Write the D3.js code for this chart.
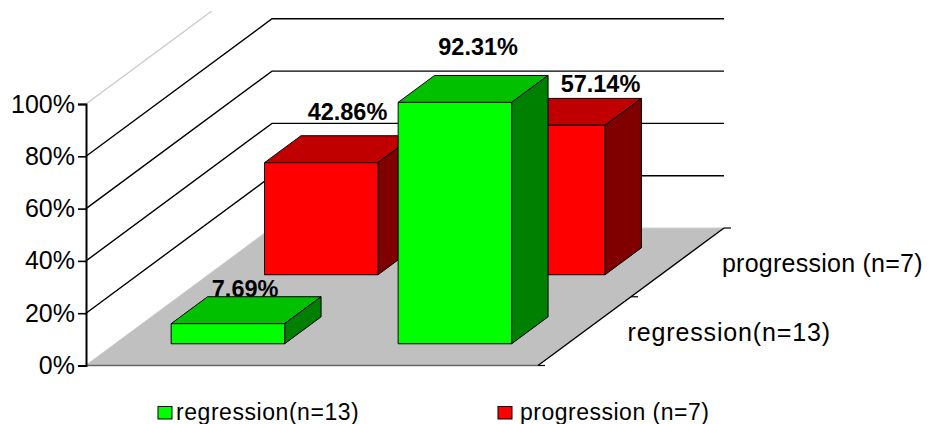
<!DOCTYPE html>
<html>
<head>
<meta charset="utf-8">
<script src="https://cdn.jsdelivr.net/npm/d3@7/dist/d3.min.js"></script>
<style>
html, body { margin: 0; padding: 0; background: #fff; }
svg { display: block; }
text { font-family: "Liberation Sans", Arial, sans-serif; fill: #000; }
</style>
</head>
<body>
<svg id="chart" width="929" height="424"></svg>
<script>
// Outcome groups, front to back, and their share in each of the two unnamed columns
const seriesNames = ["regression(n=13)", "progression (n=7)"];
const columns = ["A", "B"];
const regressionValues = [7.69, 92.31];
const progressionValues = [42.86, 57.14];
const yTicks = [0, 20, 40, 60, 80, 100];
const seriesValues = [regressionValues, progressionValues];

const faceColors = [
  { front: "#00ff00", top: "#00c000", side: "#008000" },
  { front: "#ff0000", top: "#c00000", side: "#800000" }
];

const svg = d3.select("#chart");

// Oblique projection: the depth axis runs up and to the right of the front plane
const originX = 86, floorY = 365.5, depthDX = 186, depthDY = 137.5, floorWidth = 452;
const x = d3.scaleBand().domain(columns).range([0, floorWidth]).paddingInner(0.5).paddingOuter(0.2456);
const y = d3.scaleLinear().domain([0, 100]).range([floorY, 104]);
const depth = d3.scaleBand().domain(seriesNames).range([0, 1]).paddingInner(0.61).paddingOuter(0.301).align(0.523);

const project = (px, value, d) => [originX + px + d * depthDX, y(value) - d * depthDY];
const poly = pts => "M" + pts.map(p => p.join(",")).join("L") + "Z";

svg.append("defs").append("clipPath").attr("id", "plot-top")
  .append("rect").attr("x", 0).attr("y", 11).attr("width", 929).attr("height", 413);

// Back wall gridlines
const wall = svg.append("g").attr("clip-path", "url(#plot-top)");
yTicks.forEach(t => {
  const faint = t === 0 || t === 100;
  const a = project(0, t, 0), b = project(0, t, 1), c = project(floorWidth, t, 1);
  wall.append("path")
    .attr("d", `M${a}L${b}` + (faint ? "" : `L${c}`))
    .attr("fill", "none")
    .attr("stroke", faint ? "#c8c8c8" : "#000")
    .attr("stroke-width", faint ? 1.2 : 1.4);
});

// Floor
svg.append("path")
  .attr("d", poly([project(0, 0, 0), project(floorWidth, 0, 0), project(floorWidth, 0, 1), project(0, 0, 1)]))
  .attr("fill", "#c0c0c0");
svg.append("path")
  .attr("d", `M${project(0, 0, 1)}L${project(floorWidth, 0, 1)}`)
  .attr("stroke", "#d0d0d0").attr("stroke-width", 1.2);
svg.append("path")
  .attr("d", `M${project(0, 0, 0)}L${project(floorWidth, 0, 0)}`)
  .attr("stroke", "#666").attr("stroke-width", 1.6);
svg.append("path")
  .attr("d", `M${project(floorWidth, 0, 0)}L${project(floorWidth, 0, 1)}`)
  .attr("stroke", "#000").attr("stroke-width", 1.4);

// Depth axis ticks along the right floor edge
[0, 0.5, 1].forEach(d => {
  const p = project(floorWidth, 0, d);
  svg.append("line")
    .attr("x1", p[0]).attr("y1", p[1]).attr("x2", p[0] + 7).attr("y2", p[1])
    .attr("stroke", "#000").attr("stroke-width", 1.2);
});

// Bars, back series first so the front series overlaps it
const barLayer = svg.append("g");
[1, 0].forEach(s => {
  const name = seriesNames[s];
  const d0 = depth(name), d1 = d0 + depth.bandwidth();
  columns.forEach((col, i) => {
    const x0 = x(col), x1 = x0 + x.bandwidth(), v = seriesValues[s][i];
    const g = barLayer.append("g").attr("stroke", "#000").attr("stroke-width", 1).attr("stroke-linejoin", "round");
    g.append("path").attr("fill", faceColors[s].top)
      .attr("d", poly([project(x0, v, d0), project(x1, v, d0), project(x1, v, d1), project(x0, v, d1)]));
    g.append("path").attr("fill", faceColors[s].side)
      .attr("d", poly([project(x1, 0, d0), project(x1, v, d0), project(x1, v, d1), project(x1, 0, d1)]));
    g.append("path").attr("fill", faceColors[s].front)
      .attr("d", poly([project(x0, 0, d0), project(x1, 0, d0), project(x1, v, d0), project(x0, v, d0)]));
  });
});

// Value labels sit above each bar's top face, each shifted clear of its neighbours
const labelNudge = [[[-1, 3], [5, -17]], [[8, -13], [34, -3]]];
[1, 0].forEach(s => {
  const name = seriesNames[s];
  const dMid = depth(name) + depth.bandwidth() / 2;
  columns.forEach((col, i) => {
    const v = seriesValues[s][i];
    const top = project(x(col) + x.bandwidth() / 2, v, dMid);
    const [nx, ny] = labelNudge[s][i];
    svg.append("text")
      .attr("x", top[0] + nx)
      .attr("y", project(0, v, depth(name) + depth.bandwidth())[1] - 3 + ny)
      .attr("text-anchor", "middle")
      .attr("font-size", 23.5)
      .attr("font-weight", "bold")
      .text(v.toFixed(2) + "%");
  });
});

// Value axis on the front left edge
const yAxis = svg.append("g")
  .attr("transform", `translate(${originX},0)`)
  .call(d3.axisLeft(y).tickValues(yTicks).tickSize(8).tickPadding(3).tickFormat(d => d + "%"));
yAxis.select(".domain").attr("stroke", "#000").attr("stroke-width", 2);
yAxis.selectAll(".tick line").attr("stroke", "#000").attr("stroke-width", 1.6);
yAxis.selectAll("text")
  .attr("font-size", 25)
  .attr("font-family", '"Liberation Sans", Arial, sans-serif')
  .attr("fill", "#000");

// Series names beside the floor edge
const depthLabelSpacing = [0.85, 0.25];
seriesNames.forEach((name, i) => {
  const p = project(floorWidth, 0, depth(name) + depth.bandwidth() / 2);
  svg.append("text")
    .attr("x", p[0] + 42 + i)
    .attr("y", p[1] + 11)
    .attr("font-size", 25)
    .attr("letter-spacing", depthLabelSpacing[i])
    .text(name);
});

// Legend
const legendX = [158, 498];
const legendGap = [18, 22];
seriesNames.forEach((name, i) => {
  svg.append("rect")
    .attr("x", legendX[i]).attr("y", 406.5).attr("width", 14).attr("height", 12.5)
    .attr("fill", faceColors[i].front).attr("stroke", "#000").attr("stroke-width", 1);
  svg.append("text")
    .attr("x", legendX[i] + legendGap[i]).attr("y", 419.5)
    .attr("font-size", 23)
    .attr("letter-spacing", i === 0 ? 0.55 : 0.5)
    .text(name);
});
</script>
</body>
</html>
